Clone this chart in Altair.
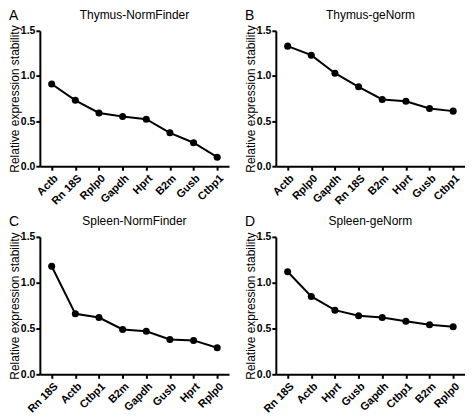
import altair as alt
import pandas as pd

FONT = "Liberation Sans"

# Panel A: Thymus-NormFinder
a_genes = ["Actb", "Rn 18S", "Rplp0", "Gapdh", "Hprt", "B2m", "Gusb", "Ctbp1"]
a_vals = [0.91, 0.73, 0.59, 0.55, 0.52, 0.37, 0.26, 0.10]
# Panel B: Thymus-geNorm
b_genes = ["Actb", "Rplp0", "Gapdh", "Rn 18S", "B2m", "Hprt", "Gusb", "Ctbp1"]
b_vals = [1.33, 1.23, 1.03, 0.88, 0.74, 0.72, 0.64, 0.61]
# Panel C: Spleen-NormFinder
c_genes = ["Rn 18S", "Actb", "Ctbp1", "B2m", "Gapdh", "Gusb", "Hprt", "Rplp0"]
c_vals = [1.18, 0.66, 0.62, 0.49, 0.47, 0.38, 0.37, 0.29]
# Panel D: Spleen-geNorm
d_genes = ["Rn 18S", "Actb", "Hprt", "Gusb", "Gapdh", "Ctbp1", "B2m", "Rplp0"]
d_vals = [1.12, 0.85, 0.70, 0.64, 0.62, 0.58, 0.54, 0.52]

y_ticks = [0, 0.5, 1.0, 1.5]
y_title = "Relative expression stability"


def panel(letter, name, genes, vals, w, h):
    df = pd.DataFrame({"gene": genes, "value": vals})
    base = alt.Chart(df).encode(
        x=alt.X(
            "gene:N",
            sort=genes,
            title=None,
            scale=alt.Scale(type="point", padding=0.5),
            axis=alt.Axis(labelAngle=-45, labelAlign="right", labelBaseline="top",
                          labelPadding=2, labelFontSize=11, labelFontWeight="bold"),
        ),
        y=alt.Y(
            "value:Q",
            scale=alt.Scale(domain=[0, 1.5]),
            axis=alt.Axis(values=y_ticks, format=".1f", title=y_title,
                          labelFontSize=10.5, labelFontWeight="bold", labelPadding=1,
                          titleFontSize=12, titleFontWeight="normal", titlePadding=-1),
        ),
    )
    line = base.mark_line(color="black", strokeWidth=2)
    pts = base.mark_point(filled=True, color="black", size=50, opacity=1)
    lab = alt.Chart(pd.DataFrame({"t": [letter]})).mark_text(
        fontSize=14, align="left", baseline="alphabetic", font=FONT, color="black"
    ).encode(text="t:N", x=alt.value(-31), y=alt.value(-11))
    ttl = alt.Chart(pd.DataFrame({"t": [name]})).mark_text(
        fontSize=12, align="center", baseline="alphabetic", font=FONT, color="black"
    ).encode(text="t:N", x=alt.value(w / 2), y=alt.value(-12))
    return alt.layer(line, pts, lab, ttl).properties(width=w, height=h)


pa = panel("A", "Thymus-NormFinder", a_genes, a_vals, 190, 136)
pb = panel("B", "Thymus-geNorm", b_genes, b_vals, 190, 136)
pc = panel("C", "Spleen-NormFinder", c_genes, c_vals, 190, 138)
pd_ = panel("D", "Spleen-geNorm", d_genes, d_vals, 190, 138)

chart = alt.vconcat(
    alt.hconcat(pa, pb, spacing=15),
    alt.hconcat(pc, pd_, spacing=15),
    spacing=8,
).properties(padding=0, background="white").configure_view(stroke=None).configure_axis(
    grid=False,
    domainColor="black",
    domainWidth=2,
    tickColor="black",
    tickWidth=2,
    tickSize=4,
    labelColor="black",
    titleColor="black",
    labelFont=FONT,
    titleFont=FONT,
)

chart.save("out.html", embed_options={"renderer": "svg", "actions": False})
